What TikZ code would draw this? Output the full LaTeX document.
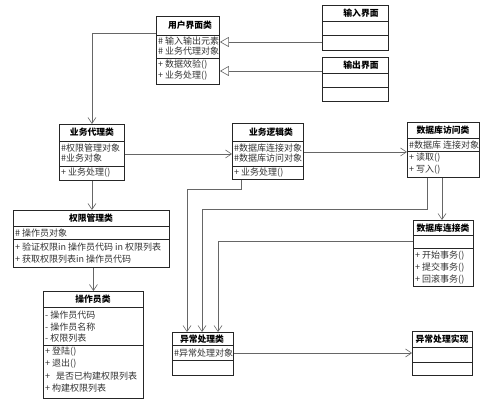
\documentclass[tikz,border=0pt]{standalone}
\usepackage{fontspec}
\newfontfamily\cjk{Noto Sans CJK SC}
\usepackage{tikz}
\usetikzlibrary{arrows.meta}
\usepackage{xcolor}

\begin{document}
\begin{tikzpicture}[x=1pt, y=-1pt,
    classbox/.style={draw=black!85, line width=0.9pt, inner sep=0pt, anchor=north west},
    divider/.style={draw=black!85, line width=0.9pt},
    title/.style={font=\cjk\bfseries\fontsize{8.8}{10}\selectfont, inner sep=1pt},
    member/.style={font=\cjk\fontsize{9}{10}\selectfont, text=black!80, anchor=west, inner sep=1pt},
    assoc/.style={draw=black!60, line width=0.6pt, -{Straight Barb[length=6pt, width=8pt, line width=0.6pt]}},
    gen/.style={draw=black!60, line width=0.6pt, -{Triangle[open, fill=white, length=9pt, width=10pt, line width=0.6pt]}}]
    \useasboundingbox (0,0) rectangle (499,401);

    % class boxes
    \node[classbox, minimum width=63pt, minimum height=68pt] (ui) at (156,16) {};
    \node[classbox, minimum width=66pt, minimum height=45pt] (in) at (322,5) {};
    \node[classbox, minimum width=66pt, minimum height=44pt] (out) at (322,57) {};
    \node[classbox, minimum width=65pt, minimum height=56pt] (agent) at (59,124) {};
    \node[classbox, minimum width=71pt, minimum height=56pt] (logic) at (232,123) {};
    \node[classbox, minimum width=72pt, minimum height=55pt] (access) at (407,122) {};
    \node[classbox, minimum width=156pt, minimum height=57pt] (perm) at (13,210) {};
    \node[classbox, minimum width=60pt, minimum height=66pt] (conn) at (413,220) {};
    \node[classbox, minimum width=100pt, minimum height=107pt] (oper) at (43,291) {};
    \node[classbox, minimum width=61pt, minimum height=43pt] (exc) at (172,332) {};
    \node[classbox, minimum width=60pt, minimum height=44pt] (impl) at (412,331) {};

    % dividers
    \draw[divider] (ui.west |- 0,35) -- (ui.east |- 0,35);
    \draw[divider] (ui.west |- 0,58) -- (ui.east |- 0,58);
    \draw[divider] (in.west |- 0,21) -- (in.east |- 0,21);
    \draw[divider] (in.west |- 0,35) -- (in.east |- 0,35);
    \draw[divider] (out.west |- 0,73) -- (out.east |- 0,73);
    \draw[divider] (out.west |- 0,87) -- (out.east |- 0,87);
    \draw[divider] (agent.west |- 0,141) -- (agent.east |- 0,141);
    \draw[divider] (agent.west |- 0,166) -- (agent.east |- 0,166);
    \draw[divider] (logic.west |- 0,141) -- (logic.east |- 0,141);
    \draw[divider] (logic.west |- 0,166) -- (logic.east |- 0,166);
    \draw[divider] (access.west |- 0,138) -- (access.east |- 0,138);
    \draw[divider] (access.west |- 0,151) -- (access.east |- 0,151);
    \draw[divider] (perm.west |- 0,226) -- (perm.east |- 0,226);
    \draw[divider] (perm.west |- 0,239) -- (perm.east |- 0,239);
    \draw[divider] (conn.west |- 0,235) -- (conn.east |- 0,235);
    \draw[divider] (conn.west |- 0,248) -- (conn.east |- 0,248);
    \draw[divider] (oper.west |- 0,307) -- (oper.east |- 0,307);
    \draw[divider] (oper.west |- 0,345) -- (oper.east |- 0,345);
    \draw[divider] (exc.west |- 0,345) -- (exc.east |- 0,345);
    \draw[divider] (exc.west |- 0,360) -- (exc.east |- 0,360);
    \draw[divider] (impl.west |- 0,347) -- (impl.east |- 0,347);
    \draw[divider] (impl.west |- 0,362) -- (impl.east |- 0,362);

    % titles
    \node[title] (ui-t) at (190,25) {用户界面类};
    \node[title] (in-t) at (361,13) {输入界面};
    \node[title] (out-t) at (361,65) {输出界面};
    \node[title] (agent-t) at (92,132) {业务代理类};
    \node[title] (logic-t) at (271,132) {业务逻辑类};
    \node[title] (access-t) at (443,130) {数据库访问类};
    \node[title] (perm-t) at (91,218) {权限管理类};
    \node[title] (conn-t) at (443,228) {数据库连接类};
    \node[title] (oper-t) at (93,299) {操作员类};
    \node[title] (exc-t) at (202,339) {异常处理类};
    \node[title] (impl-t) at (442,339) {异常处理实现};

    % members
    \node[member] (ui-a1) at (157,41) {\# 输入输出元素};
    \node[member] (ui-a2) at (157,51) {\# 业务代理对象};
    \node[member] (ui-m1) at (157,65) {+ 数据效验()};
    \node[member] (ui-m2) at (157,76) {+ 业务处理()};
    \node[member] (agent-a1) at (60,148) {\#权限管理对象};
    \node[member] (agent-a2) at (60,158) {\#业务对象};
    \node[member] (agent-m1) at (60,173) {+ 业务处理()};
    \node[member] (logic-a1) at (233,148) {\#数据库连接对象};
    \node[member] (logic-a2) at (233,158) {\#数据库访问对象};
    \node[member] (logic-m1) at (233,173) {+ 业务处理()};
    \node[member] (access-a1) at (408,145) {\#数据库 连接对象};
    \node[member] (access-m1) at (408,158) {+ 读取()};
    \node[member] (access-m2) at (408,170) {+ 写入()};
    \node[member] (perm-a1) at (14,233) {\# 操作员对象};
    \node[member] (perm-m1) at (14,247) {+ 验证权限in 操作员代码 in 权限列表};
    \node[member] (perm-m2) at (14,259) {+ 获取权限列表in 操作员代码};
    \node[member] (conn-m1) at (414,256) {+ 开始事务()};
    \node[member] (conn-m2) at (414,268) {+ 提交事务()};
    \node[member] (conn-m3) at (414,280) {+ 回滚事务()};
    \node[member] (oper-a1) at (44,315) {- 操作员代码};
    \node[member] (oper-a2) at (44,327) {- 操作员名称};
    \node[member] (oper-a3) at (44,338) {- 权限列表};
    \node[member] (oper-m1) at (44,352) {+ 登陆()};
    \node[member] (oper-m2) at (44,364) {+ 退出()};
    \node[member] (oper-m3) at (44,376) {+ \ \ 是否已构建权限列表};
    \node[member] (oper-m4) at (44,388) {+ 构建权限列表};
    \node[member] (exc-a1) at (173,353) {\#异常处理对象};

    % connectors
    \draw[gen] (in.west |- 0,42) -- (ui.east |- 0,42);
    \draw[gen] (out.west |- 0,71) -- (ui.east |- 0,71);
    \draw[assoc] (ui.west |- 0,33) -| (agent.north);
    \draw[assoc] (agent.east |- 0,154) -- (logic.west |- 0,154);
    \draw[assoc] (logic.east |- 0,152) -- (access.west |- 0,152);
    \draw[assoc] (agent.south) -- (agent.south |- perm.north);
    \draw[assoc] (perm.south -| oper.north) -- (oper.north);
    \draw[assoc] (access.south -| 442,0) -- (conn.north -| 442,0);
    \draw[assoc] (logic.south -| 241,0) -- (241,189) -| (exc.north -| 187,0);
    \draw[assoc] (access.south -| 427,0) -- (427,209) -| (exc.north -| 202,0);
    \draw[assoc] (conn.west |- 0,241) -| (exc.north -| 218,0);
    \draw[assoc] (exc.east |- 0,353) -- (impl.west |- 0,353);
\end{tikzpicture}
\end{document}
